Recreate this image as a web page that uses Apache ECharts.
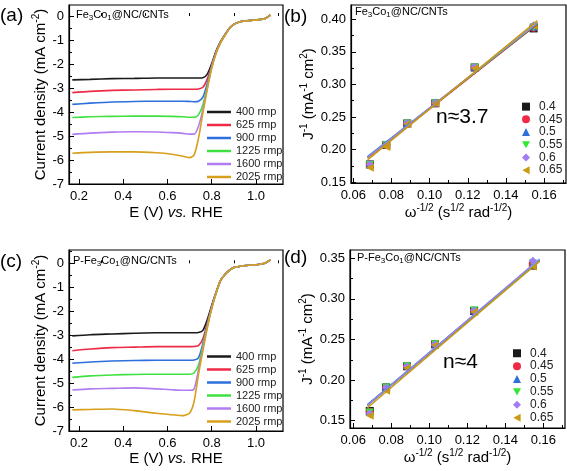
<!DOCTYPE html>
<html><head><meta charset="utf-8">
<script src="https://cdn.jsdelivr.net/npm/echarts@6/dist/echarts.min.js"></script>
<style>html,body{margin:0;padding:0;background:#fff}#c{width:567px;height:471px}</style>
</head><body><div id="c"></div>
<script>
// ---------- data ----------
const potential = [0.17, 0.25, 0.35, 0.45, 0.55, 0.62, 0.67, 0.70, 0.72, 0.74, 0.76, 0.78, 0.80, 0.82, 0.84, 0.86, 0.88, 0.90, 0.93, 0.97, 1.01, 1.04, 1.065];
const rpmNames = ['400 rmp', '625 rmp', '900 rmp', '1225 rmp', '1600 rmp', '2025 rmp'];

// panel (a) Fe3Co1@NC/CNTs, current density (mA cm-2)
const lsvA400  = [-2.66, -2.64, -2.61, -2.60, -2.58, -2.58, -2.58, -2.58, -2.58, -2.58, -2.57, -2.42, -1.98, -1.45, -1.06, -0.77, -0.50, -0.34, -0.23, -0.18, -0.15, -0.10, 0.05];
const lsvA625  = [-3.19, -3.14, -3.10, -3.08, -3.06, -3.05, -3.05, -3.05, -3.05, -3.04, -2.97, -2.62, -2.04, -1.48, -1.08, -0.78, -0.51, -0.35, -0.24, -0.19, -0.16, -0.11, 0.04];
const lsvA900  = [-3.68, -3.63, -3.58, -3.56, -3.55, -3.55, -3.55, -3.56, -3.57, -3.55, -3.38, -2.80, -2.08, -1.50, -1.09, -0.79, -0.51, -0.35, -0.24, -0.19, -0.16, -0.11, 0.04];
const lsvA1225 = [-4.23, -4.20, -4.18, -4.17, -4.17, -4.18, -4.20, -4.22, -4.22, -4.12, -3.70, -2.92, -2.12, -1.52, -1.10, -0.79, -0.52, -0.35, -0.24, -0.19, -0.16, -0.11, 0.03];
const lsvA1600 = [-4.93, -4.88, -4.84, -4.82, -4.83, -4.86, -4.89, -4.92, -4.92, -4.60, -3.90, -3.00, -2.15, -1.53, -1.11, -0.80, -0.52, -0.35, -0.24, -0.19, -0.16, -0.11, 0.03];
const lsvA2025 = [-5.72, -5.68, -5.66, -5.66, -5.70, -5.76, -5.84, -5.90, -5.80, -5.10, -4.05, -3.05, -2.18, -1.55, -1.12, -0.80, -0.52, -0.35, -0.24, -0.19, -0.16, -0.11, 0.05];

// panel (c) P-Fe3Co1@NC/CNTs
const lsvC400  = [-3.03, -2.98, -2.95, -2.92, -2.90, -2.90, -2.90, -2.90, -2.90, -2.89, -2.80, -2.35, -1.75, -1.20, -0.70, -0.46, -0.29, -0.18, -0.12, -0.08, -0.05, 0.00, 0.14];
const lsvC625  = [-3.65, -3.58, -3.52, -3.50, -3.48, -3.48, -3.48, -3.48, -3.47, -3.44, -3.15, -2.48, -1.80, -1.21, -0.71, -0.47, -0.29, -0.18, -0.12, -0.08, -0.05, 0.00, 0.14];
const lsvC900  = [-4.17, -4.12, -4.08, -4.06, -4.05, -4.05, -4.05, -4.05, -4.04, -3.95, -3.35, -2.55, -1.82, -1.22, -0.71, -0.47, -0.30, -0.18, -0.12, -0.08, -0.05, 0.00, 0.14];
const lsvC1225 = [-4.76, -4.70, -4.66, -4.64, -4.63, -4.63, -4.63, -4.63, -4.58, -4.25, -3.45, -2.60, -1.85, -1.23, -0.72, -0.47, -0.30, -0.18, -0.12, -0.08, -0.05, 0.00, 0.14];
const lsvC1600 = [-5.29, -5.24, -5.22, -5.20, -5.24, -5.28, -5.30, -5.30, -5.25, -4.45, -3.55, -2.65, -1.87, -1.24, -0.72, -0.48, -0.30, -0.18, -0.12, -0.08, -0.05, 0.00, 0.15];
const lsvC2025 = [-6.12, -6.10, -6.08, -6.15, -6.26, -6.32, -6.36, -6.25, -5.78, -4.65, -3.65, -2.70, -1.90, -1.25, -0.72, -0.48, -0.30, -0.18, -0.12, -0.08, -0.05, 0.00, 0.15];

// K-L plots: omega^-1/2 for 2025,1600,1225,900,625,400 rpm
const omegaInv = [0.0687, 0.0773, 0.0883, 0.1030, 0.1236, 0.1545];
const klNames = ['0.4', '0.45', '0.5', '0.55', '0.6', '0.65'];
// panel (b) J^-1
const klB04  = [0.177, 0.207, 0.240, 0.271, 0.326, 0.386];
const klB045 = [0.177, 0.207, 0.240, 0.271, 0.326, 0.387];
const klB05  = [0.178, 0.208, 0.241, 0.272, 0.327, 0.389];
const klB055 = [0.176, 0.207, 0.240, 0.271, 0.326, 0.388];
const klB06  = [0.177, 0.207, 0.241, 0.272, 0.327, 0.391];
const klB065 = [0.172, 0.204, 0.239, 0.271, 0.325, 0.390];
// panel (d) J^-1
const klD04  = [0.162, 0.191, 0.217, 0.244, 0.285, 0.341];
const klD045 = [0.161, 0.191, 0.217, 0.244, 0.285, 0.343];
const klD05  = [0.161, 0.192, 0.218, 0.245, 0.286, 0.344];
const klD055 = [0.160, 0.191, 0.217, 0.244, 0.286, 0.344];
const klD06  = [0.159, 0.191, 0.217, 0.244, 0.286, 0.347];
const klD065 = [0.156, 0.187, 0.215, 0.243, 0.284, 0.340];
// fitted line end points
const fitXB = [0.0675, 0.1565];
const fitB = [[0.188, 0.393], [0.187, 0.393], [0.189, 0.394], [0.188, 0.394], [0.188, 0.395], [0.184, 0.398]];
const fitXD = [0.0675, 0.158];
const fitD = [[0.169, 0.347], [0.169, 0.347], [0.170, 0.348], [0.169, 0.348], [0.169, 0.349], [0.166, 0.346]];

// tick labels
const ticksLsvX = [0.2, 0.4, 0.6, 0.8, 1.0];
const ticksLsvY = [-7, -6, -5, -4, -3, -2, -1, 0];
const ticksKlX = [0.06, 0.08, 0.10, 0.12, 0.14, 0.16];
const ticksKlYB = [0.15, 0.20, 0.25, 0.30, 0.35, 0.40];
const ticksKlYD = [0.15, 0.20, 0.25, 0.30, 0.35];

// ---------- styles ----------
const FONT = 'Liberation Sans, Arial, Helvetica, sans-serif';
const lsvColors = ['#1a1a1a', '#ee2a45', '#2d6fdc', '#40e040', '#b07cf0', '#d6a01c'];
const klColors = ['#1a1a1a', '#ee2a47', '#2f6fd8', '#33e633', '#a07cf5', '#c99a12'];
const klSymbols = ['rect', 'circle', 'triangle', 'path://M0,0 L10,0 L5,9 Z', 'diamond', 'path://M10,0 L10,10 L1,5 Z'];

const grids = [
  {left: 69, top: 5, width: 214, height: 179},
  {left: 351, top: 5, width: 215, height: 178},
  {left: 69, top: 250, width: 214, height: 181},
  {left: 350, top: 250, width: 215, height: 178}
];
const ranges = [
  {x: [0.155, 1.122], y: [-7, 0.46]},
  {x: [0.0588, 0.1715], y: [0.1485, 0.422]},
  {x: [0.155, 1.122], y: [-7, 0.555]},
  {x: [0.0583, 0.1714], y: [0.141, 0.3602]}
];

const nameRich = {
  n: {fontSize: 15, fontFamily: FONT, color: '#000', lineHeight: 20, verticalAlign: 'middle'},
  i: {fontSize: 15, fontFamily: FONT, color: '#000', fontStyle: 'italic', lineHeight: 20, verticalAlign: 'middle'},
  s: {fontSize: 10, fontFamily: FONT, color: '#000', lineHeight: 20, verticalAlign: 'top', padding: [0, 0, 7, 0]}
};
const nameLsvX = '{n|E (V) }{i|vs.}{n| RHE}';
const nameLsvY = '{n|Current density (mA cm}{s|-2}{n|)}';
const nameKlX = '{n|ω}{s|-1/2}{n| (s}{s|1/2}{n| rad}{s|-1/2}{n|)}';
const nameKlY = '{n|J}{s|-1}{n| (mA}{s|-1}{n| cm}{s|2}{n|)}';

function minorOf(major, step, lo, hi) {
  const out = [];
  for (let v = major[0] - step * 2; v <= hi + 1e-9; v += step) {
    const r = Math.round(v * 10000) / 10000;
    if (r >= lo - 1e-9 && !major.some(m => Math.abs(m - r) < 1e-9)) out.push(r);
  }
  return out;
}

function mainAxis(gi, dim, range, ticks, fmt, name, gap) {
  return {
    type: 'value', gridIndex: gi, min: range[0], max: range[1],
    position: dim === 'x' ? 'bottom' : 'left',
    axisLine: {show: true, onZero: false, lineStyle: {color: '#000', width: 1.2}},
    axisTick: {show: true, inside: true, length: 5, customValues: ticks, lineStyle: {color: '#000', width: 1}},
    axisLabel: {show: true, customValues: ticks, formatter: fmt, color: '#000', fontSize: 13, fontFamily: FONT, margin: dim === 'x' ? 6 : 5},
    splitLine: {show: false},
    name: name, nameLocation: 'middle', nameGap: gap,
    nameTextStyle: {rich: nameRich}
  };
}
function minorAxis(gi, dim, range, ticks) {
  return {
    type: 'value', gridIndex: gi, min: range[0], max: range[1],
    position: dim === 'x' ? 'bottom' : 'left',
    axisLine: {show: false},
    axisTick: {show: true, inside: true, length: 3, customValues: ticks, lineStyle: {color: '#000', width: 1}},
    axisLabel: {show: false},
    splitLine: {show: false}
  };
}

const f1 = v => v.toFixed(1);
const f0 = v => String(Math.round(v));
const f2 = v => v.toFixed(2);

const xAxes = [
  mainAxis(0, 'x', ranges[0].x, ticksLsvX, f1, nameLsvX, 19),
  mainAxis(1, 'x', ranges[1].x, ticksKlX, f2, nameKlX, 19),
  mainAxis(2, 'x', ranges[2].x, ticksLsvX, f1, nameLsvX, 17),
  mainAxis(3, 'x', ranges[3].x, ticksKlX, f2, nameKlX, 20),
  minorAxis(0, 'x', ranges[0].x, minorOf(ticksLsvX, 0.1, ranges[0].x[0], ranges[0].x[1])),
  minorAxis(1, 'x', ranges[1].x, minorOf(ticksKlX, 0.01, ranges[1].x[0], ranges[1].x[1])),
  minorAxis(2, 'x', ranges[2].x, minorOf(ticksLsvX, 0.1, ranges[2].x[0], ranges[2].x[1])),
  minorAxis(3, 'x', ranges[3].x, minorOf(ticksKlX, 0.01, ranges[3].x[0], ranges[3].x[1]))
];
const yAxes = [
  mainAxis(0, 'y', ranges[0].y, ticksLsvY, f0, nameLsvY, 17),
  mainAxis(1, 'y', ranges[1].y, ticksKlYB, f2, nameKlY, 32),
  mainAxis(2, 'y', ranges[2].y, ticksLsvY, f0, nameLsvY, 17),
  mainAxis(3, 'y', ranges[3].y, ticksKlYD, f2, nameKlY, 32),
  minorAxis(0, 'y', ranges[0].y, minorOf(ticksLsvY, 0.5, ranges[0].y[0], ranges[0].y[1])),
  minorAxis(1, 'y', ranges[1].y, minorOf(ticksKlYB, 0.025, ranges[1].y[0], ranges[1].y[1])),
  minorAxis(2, 'y', ranges[2].y, minorOf(ticksLsvY, 0.5, ranges[2].y[0], ranges[2].y[1])),
  minorAxis(3, 'y', ranges[3].y, minorOf(ticksKlYD, 0.025, ranges[3].y[0], ranges[3].y[1]))
];

const series = [];
function addLsv(gi, curves) {
  curves.forEach((vals, k) => {
    series.push({
      type: 'line', name: rpmNames[k], xAxisIndex: gi, yAxisIndex: gi,
      data: potential.map((p, i) => [p, vals[i]]),
      showSymbol: false, symbol: 'none', smooth: 0.25,
      lineStyle: {color: lsvColors[k], width: 1.6}, itemStyle: {color: lsvColors[k]},
      z: 2 + k
    });
  });
}
addLsv(0, [lsvA400, lsvA625, lsvA900, lsvA1225, lsvA1600, lsvA2025]);
addLsv(2, [lsvC400, lsvC625, lsvC900, lsvC1225, lsvC1600, lsvC2025]);

function addKl(gi, sets, fits, fitX) {
  sets.forEach((vals, k) => {
    series.push({
      type: 'scatter', name: klNames[k], xAxisIndex: gi, yAxisIndex: gi,
      data: omegaInv.map((w, i) => [w, vals[i]]),
      symbol: klSymbols[k], symbolSize: 8,
      itemStyle: {color: klColors[k], opacity: 1}, z: 2 + k
    });
  });
  fits.forEach((f, k) => {
    series.push({
      type: 'line', name: 'fit ' + klNames[k], xAxisIndex: gi, yAxisIndex: gi,
      data: [[fitX[0], f[0]], [fitX[1], f[1]]],
      showSymbol: false, symbol: 'none',
      lineStyle: {color: klColors[k], width: 1.4}, z: 10 + k
    });
  });
}
addKl(1, [klB04, klB045, klB05, klB055, klB06, klB065], fitB, fitXB);
addKl(3, [klD04, klD045, klD05, klD055, klD06, klD065], fitD, fitXD);

const legendText = {fontSize: 11, fontFamily: FONT, color: '#222', lineHeight: 13};
const legends = [
  {data: rpmNames, icon: 'rect', left: 207, top: 105.5, orient: 'vertical', itemWidth: 24, itemHeight: 2.5, itemGap: 0, textStyle: legendText, selectedMode: false, padding: 0},
  {data: rpmNames, icon: 'rect', left: 207, top: 350, orient: 'vertical', itemWidth: 24, itemHeight: 2.5, itemGap: 0, textStyle: legendText, selectedMode: false, padding: 0},
  {data: klNames, left: 522, top: 100.3, orient: 'vertical', itemWidth: 8, itemHeight: 8, itemGap: 0,
   textStyle: Object.assign({}, legendText, {fontSize: 12, lineHeight: 12.7, padding: [0, 0, 0, 4]}), selectedMode: false, padding: 0},
  {data: klNames, left: 513, top: 346.8, orient: 'vertical', itemWidth: 8, itemHeight: 8, itemGap: 0,
   textStyle: Object.assign({}, legendText, {fontSize: 12, lineHeight: 12.9, padding: [0, 0, 0, 4]}), selectedMode: false, padding: 0}
];

const titleRich = {
  n: {fontSize: 11, fontFamily: FONT, color: '#333', lineHeight: 14, verticalAlign: 'middle'},
  b: {fontSize: 8, fontFamily: FONT, color: '#333', lineHeight: 14, verticalAlign: 'bottom'}
};
function txt(x, y, text, size, rich) {
  return {type: 'text', x: x, y: y, style: {text: text, fill: '#000', font: size + 'px ' + FONT, rich: rich}, z: 100};
}
const graphics = [
  txt(0, 6, '(a)', 19), txt(284, 7, '(b)', 19), txt(0, 252, '(c)', 19), txt(284, 248, '(d)', 19),
  txt(76, 8, '{n|Fe}{b|3}{n|Co}{b|1}{n|@NC/CNTs}', 11, titleRich),
  txt(355, 5, '{n|Fe}{b|3}{n|Co}{b|1}{n|@NC/CNTs}', 11, titleRich),
  txt(73, 254, '{n|P-Fe}{b|3}{n|Co}{b|1}{n|@NC/CNTs}', 11, titleRich),
  txt(357, 251, '{n|P-Fe}{b|3}{n|Co}{b|1}{n|@NC/CNTs}', 11, titleRich),
  txt(436, 107, 'n≈3.7', 21), txt(443, 352, 'n≈4', 21)
];

const chart = echarts.init(document.getElementById('c'), null, {renderer: 'canvas'});
chart.setOption({
  animation: false,
  backgroundColor: '#fff',
  grid: grids.map(g => Object.assign({show: true, borderColor: '#000', borderWidth: 1.2, backgroundColor: 'transparent', containLabel: false}, g)),
  xAxis: xAxes, yAxis: yAxes,
  legend: legends,
  series: series,
  graphic: graphics
});
</script></body></html>
